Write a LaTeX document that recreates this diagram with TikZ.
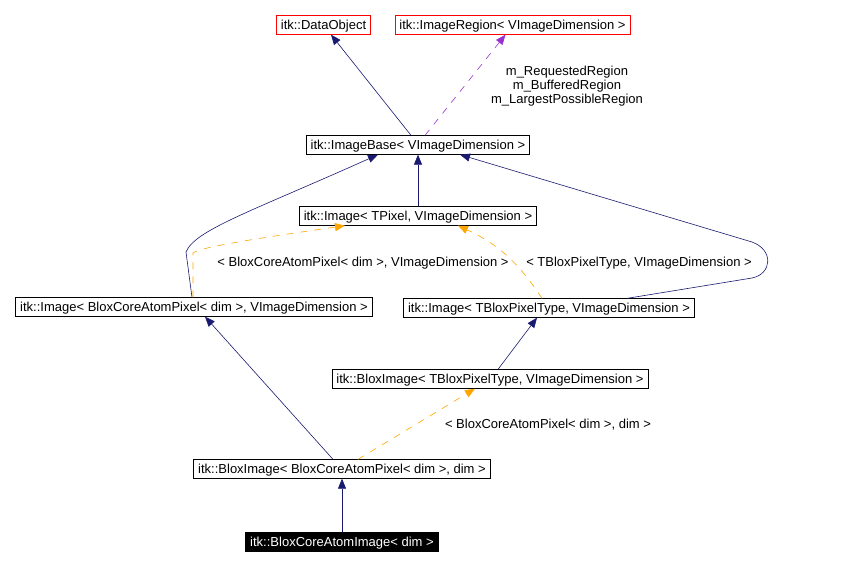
\documentclass[tikz,border=0pt]{standalone}
\usepackage{fontspec}
\setmainfont{Liberation Sans}
\usepackage{tikz}
\usetikzlibrary{arrows.meta, positioning}
\definecolor{mynavy}{RGB}{25,25,112}
\definecolor{myorange}{RGB}{255,165,0}
\definecolor{mypurple}{RGB}{153,50,204}
\definecolor{myred}{RGB}{255,0,0}
\tikzset{
  classbox/.style={rectangle, draw=black, fill=white, inner xsep=4.5pt, inner ysep=0pt,
    text height=10.5pt, text depth=1.5pt, minimum height=18.5pt, line width=0.8pt},
  extbox/.style={classbox, draw=myred},
  curbox/.style={classbox, draw=black, fill=black, text=white},
  inherit/.style={-{Triangle[length=10pt,width=8pt]}, line width=0.6pt, color=mynavy},
  templ/.style={inherit, color=myorange, dash pattern=on 7pt off 7pt},
  usage/.style={inherit, color=mypurple, dash pattern=on 7pt off 7pt},
  lbl/.style={align=center}
}

\begin{document}
\begin{tikzpicture}[x=1pt, y=-1pt, every node/.style={font=\fontsize{13}{14.3}\selectfont}]
    \useasboundingbox (0,0) rectangle (853,566);

    % classes
    \node[extbox] (dataobj) at (323.5, 25) {itk::DataObject};
    \node[extbox] (region) at (512.5, 25) {itk::ImageRegion< VImageDimension >};
    \node[classbox] (imgbase) at (418, 145) {itk::ImageBase< VImageDimension >};
    \node[classbox] (imgpix) at (418, 216) {itk::Image< TPixel, VImageDimension >};
    \node[classbox] (imgcore) at (194, 307) {itk::Image< BloxCoreAtomPixel< dim >, VImageDimension >};
    \node[classbox] (imgblox) at (549, 308) {itk::Image< TBloxPixelType, VImageDimension >};
    \node[classbox] (bloxblox) at (490, 379) {itk::BloxImage< TBloxPixelType, VImageDimension >};
    \node[classbox] (bloxcore) at (342, 469) {itk::BloxImage< BloxCoreAtomPixel< dim >, dim >};
    \node[curbox] (atomimg) at (342, 542) {itk::BloxCoreAtomImage< dim >};

    % ImageBase parents
    \draw[inherit] ([xshift=-7pt]imgbase.north) -- ([xshift=7.5pt]dataobj.south);
    \draw[usage] ([xshift=7pt]imgbase.north) -- ([xshift=-7pt]region.south);
    \node[lbl] (regionlbl) at (567, 86) {m\_RequestedRegion\\m\_BufferedRegion\\m\_LargestPossibleRegion};

    % Image classes
    \draw[inherit] (imgpix) -- (imgbase);
    \draw[inherit] ([xshift=-2pt]imgcore.north) -- (186,252)
        .. controls (195,230) and (250,212) .. ([xshift=-40pt]imgbase.south);
    \draw[templ] ([xshift=-1pt]imgcore.north) -- (193,253)
        .. controls (200,247) and (260,238) .. ([xshift=-73pt]imgpix.south);
    \node (corelbl) at (363, 263) {< BloxCoreAtomPixel< dim >, VImageDimension >};

    \draw[inherit] ([xshift=78pt]imgblox.north) -- (752,278)
        .. controls (772,274) and (774,250) .. (752,242) -- ([xshift=42pt]imgbase.south);
    \draw[templ] ([xshift=-7pt]imgblox.north)
        .. controls (520,265) and (500,245) .. ([xshift=40pt]imgpix.south);
    \node (bloxlbl) at (639, 263) {< TBloxPixelType, VImageDimension >};

    % BloxImage classes
    \draw[inherit] ([xshift=8pt]bloxblox.north) -- ([xshift=-12pt]imgblox.south);
    \draw[inherit] ([xshift=-9pt]bloxcore.north) -- ([xshift=11pt]imgcore.south);
    \draw[templ] ([xshift=16pt]bloxcore.north) -- ([xshift=-15pt]bloxblox.south);
    \node (atomlbl) at (548, 425) {< BloxCoreAtomPixel< dim >, dim >};

    \draw[inherit] (atomimg) -- (bloxcore);
\end{tikzpicture}
\end{document}
